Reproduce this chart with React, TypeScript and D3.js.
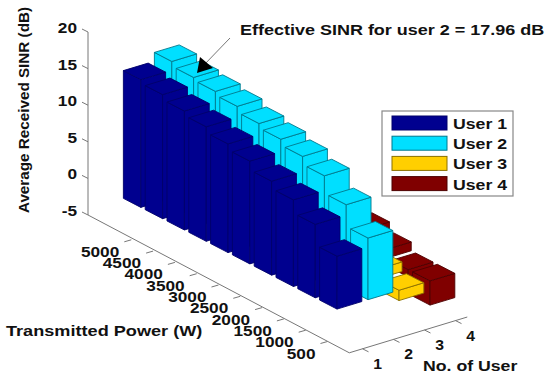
import React from 'react';
import * as d3 from 'd3';

// values, index 0 = 500 W ... index 9 = 5000 W
const powerTicks = [500, 1000, 1500, 2000, 2500, 3000, 3500, 4000, 4500, 5000];
const userTicks = [1, 2, 3, 4];
const zTicks = [-5, 0, 5, 10, 15, 20];
const user1 = [7.2, 10.0, 11.8, 12.8, 14.0, 14.8, 15.6, 16.2, 16.9, 17.4];
const user2 = [8.4, 11.4, 13.8, 14.9, 15.7, 16.3, 17.1, 17.6, 17.96, 18.6];
const user3 = [-1.4, 1.3, 2.2, 2.8, 3.2, 3.6, 3.9, 4.2, 4.4, 4.6];
const user4 = [-3.3, -1.0, 1.2, 2.4, 3.0, 3.5, 3.9, 4.2, 4.5, 4.7];
const seriesNames = ['User 1', 'User 2', 'User 3', 'User 4'];
const seriesColors = ['#00008f', '#00dfff', '#ffcf00', '#800000'];
const seriesEdges = ['#00006a', '#00788c', '#8a7000', '#4d0000'];
const allSeries = [user1, user2, user3, user4];

const uX = d3.scaleLinear().domain([1, 2]).range([0, 31]);
const uY = d3.scaleLinear().domain([1, 2]).range([0, -9.4]);
const pX = d3.scaleLinear().domain([1, 2]).range([0, -21.8]);
const pY = d3.scaleLinear().domain([1, 2]).range([0, -11.3]);
const zY = d3.scaleLinear().domain([0, 5]).range([0, -36.7]);
const zAxisY = d3.scaleLinear().domain([-5, 20]).range([215, 32]);

const project = (u: number, p: number, z: number): [number, number] => [
  340.7 + uX(u) + pX(p),
  300.8 + uY(u) + pY(p) + zY(z),
];

const poly = (pts: [number, number][]) => d3.line()(pts) + 'Z';

const BAR_HALF = 0.4;
const FLOOR = -5;
const U_MIN = 0.574;
const U_MAX = 4.38;
const P_MAX = 12;
const AXIS_COLOR = '#777';
const FONT = '"Liberation Sans", Arial, sans-serif';

function Bar({ u, p, value }: { u: number; p: number; value: number }) {
  const i = u - 1;
  const lo = Math.min(0, value);
  const hi = Math.max(0, value);
  const u0 = u - BAR_HALF, u1 = u + BAR_HALF, p0 = p - BAR_HALF, p1 = p + BAR_HALF;
  const shared = { fill: seriesColors[i], stroke: seriesEdges[i], strokeWidth: 0.9, strokeLinejoin: 'round' as const };
  return (
    <g>
      <path d={poly([project(u0, p1, hi), project(u0, p0, hi), project(u0, p0, lo), project(u0, p1, lo)])} {...shared} />
      <path d={poly([project(u0, p0, hi), project(u1, p0, hi), project(u1, p0, lo), project(u0, p0, lo)])} {...shared} />
      <path d={poly([project(u0, p0, hi), project(u1, p0, hi), project(u1, p1, hi), project(u0, p1, hi)])} {...shared} />
    </g>
  );
}

function Label({ x, y, text, anchor = 'start', size = 15, stretch = 1.15 }: any) {
  return (
    <text
      transform={`translate(${x},${y}) scale(${stretch},1)`}
      textAnchor={anchor}
      fontFamily={FONT}
      fontWeight="bold"
      fontSize={size}
      fill="#111"
    >
      {text}
    </text>
  );
}

export default function App() {
  const floorCorner = project(U_MIN, 0, FLOOR);
  const rightCorner = project(U_MAX, 0, FLOOR);

  return (
    <svg width={550} height={380} style={{ position: 'absolute', left: 0, top: 0, background: '#fff' }}>
      {/* axes */}
      <g stroke={AXIS_COLOR} strokeWidth={1} fill="none">
        <line x1={88} x2={88} y1={zAxisY(-5)} y2={zAxisY(20)} />
        <line x1={88} y1={zAxisY(-5)} x2={floorCorner[0]} y2={floorCorner[1]} />
        <line x1={floorCorner[0]} y1={floorCorner[1]} x2={rightCorner[0]} y2={rightCorner[1]} />
        {zTicks.map(t => (
          <line key={t} x1={88} y1={zAxisY(t)} x2={82} y2={zAxisY(t) - 3} />
        ))}
        {powerTicks.map((t, i) => {
          const [x, y] = project(U_MIN, i + 1, FLOOR);
          return <line key={t} x1={x} y1={y} x2={x - 7} y2={y + 2} />;
        })}
        {userTicks.map(t => {
          const [x, y] = project(t, 0, FLOOR);
          return <line key={t} x1={x} y1={y} x2={x + 6} y2={y + 3} />;
        })}
      </g>

      {/* tick labels */}
      {zTicks.map(t => (
        <Label key={t} x={77} y={zAxisY(t) + 1} text={t} anchor="end" />
      ))}
      {powerTicks.map((t, i) => {
        const [x, y] = project(U_MIN, i + 1, FLOOR);
        return <Label key={t} x={x - 12} y={y + 17} text={t} anchor="end" />;
      })}
      {userTicks.map(t => {
        const [x, y] = project(t, 0, FLOOR);
        return <Label key={t} x={x + 15} y={y + 20} text={t} anchor="middle" stretch={1.05} />;
      })}

      {/* bars, back to front */}
      {[3, 2, 1, 0].map(s =>
        d3.range(9, -1, -1).map(i => (
          <Bar key={`${s}-${i}`} u={s + 1} p={i + 1} value={allSeries[s][i]} />
        ))
      )}

      {/* axis titles */}
      <Label x={6} y={336} text="Transmitted Power (W)" stretch={1.21} />
      <Label x={423} y={371} text="No. of User" stretch={1.18} />
      <text
        transform="translate(29,110) rotate(-90) scale(1.09,1)"
        textAnchor="middle"
        fontFamily={FONT}
        fontWeight="bold"
        fontSize={14}
        fill="#111"
      >
        Average Received SINR (dB)
      </text>

      {/* annotation */}
      <line x1={230} y1={38} x2={203} y2={66} stroke={AXIS_COLOR} strokeWidth={1} />
      <path d={poly([[197, 73], [200, 57], [213, 68]])} fill="#000" />
      <Label x={240} y={35} text="Effective SINR for user 2 = 17.96 dB" size={15} stretch={1.2} />

      {/* legend */}
      <rect x={382} y={111} width={131} height={85} fill="#fff" stroke="#888" strokeWidth={1.2} />
      {seriesNames.map((name, i) => (
        <g key={name}>
          <rect x={392} y={116 + i * 20.2} width={55} height={14} fill={seriesColors[i]} stroke={seriesEdges[i]} strokeWidth={1} />
          <Label x={453} y={129 + i * 20.2} text={name} stretch={1.18} />
        </g>
      ))}
    </svg>
  );
}
